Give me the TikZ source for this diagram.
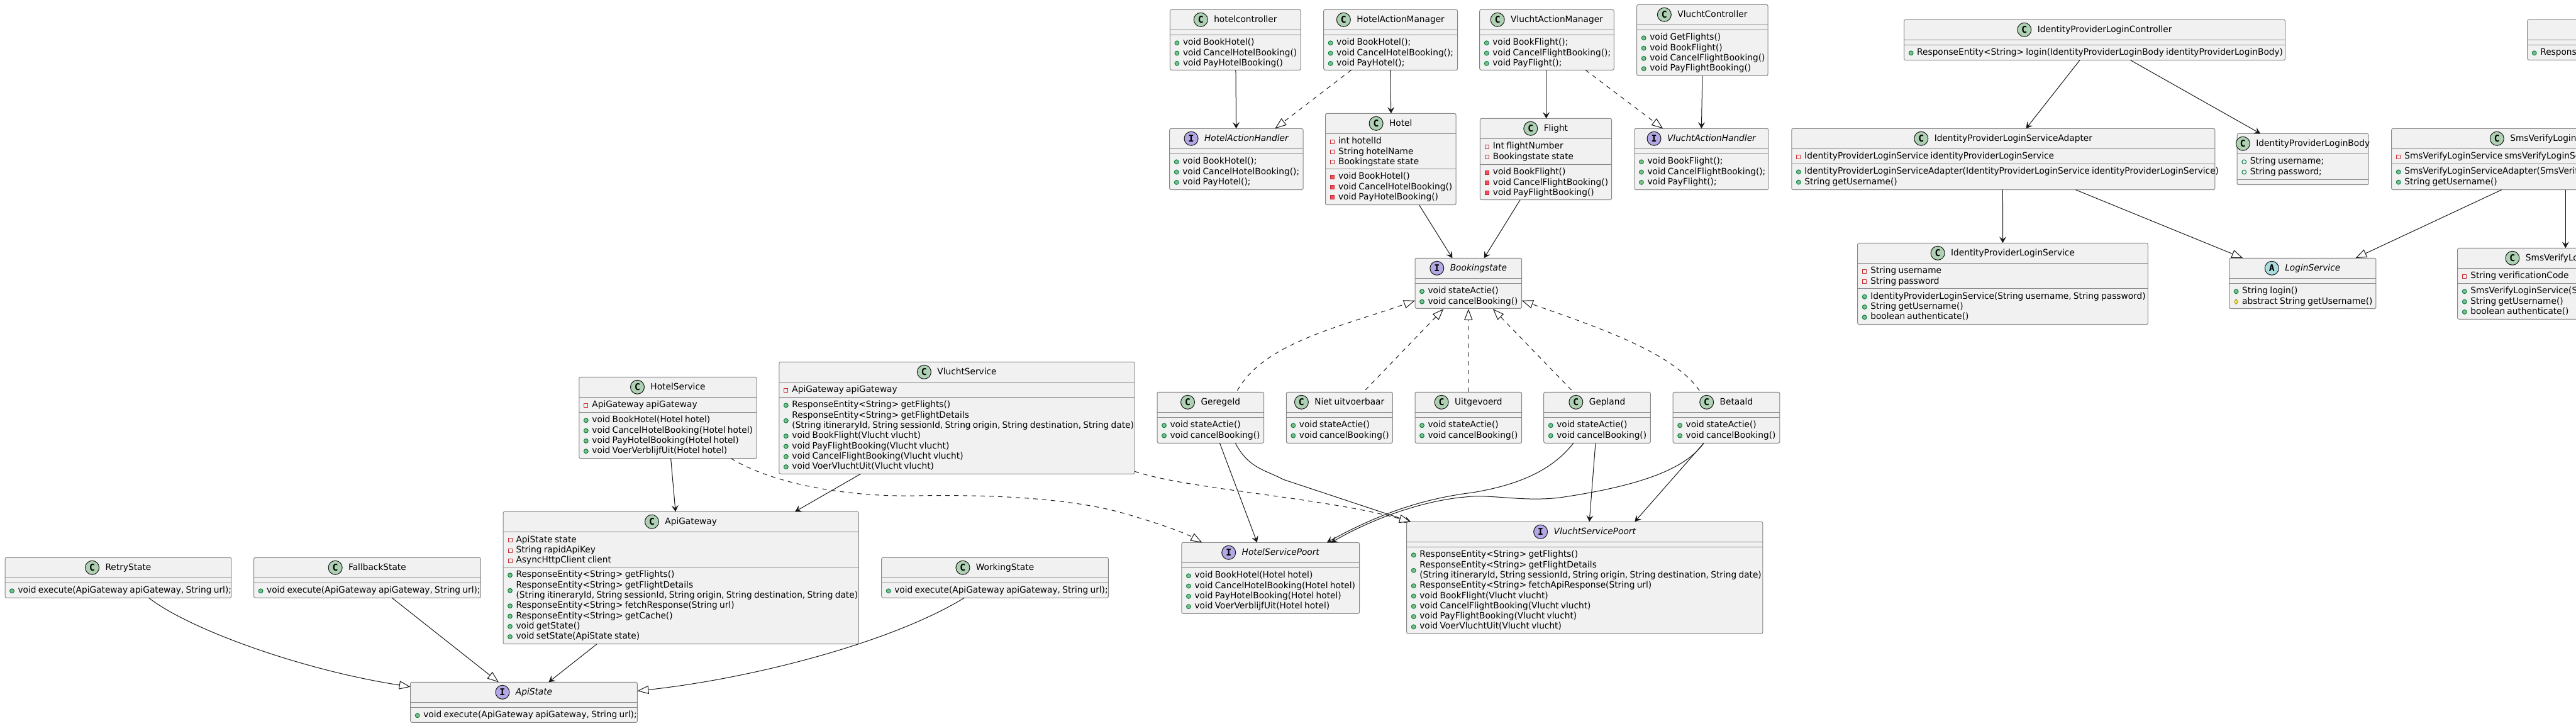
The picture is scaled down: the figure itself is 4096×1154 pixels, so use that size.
\documentclass[tikz,border=0pt]{standalone}
\usepackage{fontspec}
\setmainfont[FakeStretch=0.98,WordSpace=0.75]{DejaVu Sans}
\newfontfamily\badgefont{DejaVu Sans Mono}
\usetikzlibrary{arrows.meta,fit}
\definecolor{classfill}{HTML}{F1F1F1}
\definecolor{classline}{HTML}{868686}
\definecolor{edgeline}{HTML}{181818}
\definecolor{badgeC}{HTML}{ADD1B2}
\definecolor{badgeI}{HTML}{B4A7E5}
\definecolor{badgeA}{HTML}{A9DCDF}
\definecolor{pubfill}{HTML}{84BE84}
\definecolor{publine}{HTML}{038048}
\definecolor{prifill}{HTML}{F24D5C}
\definecolor{priline}{HTML}{C82930}
\definecolor{protfill}{HTML}{FFFF44}
\definecolor{protline}{HTML}{B38D22}
\tikzset{
  classnode/.style={draw=classline,fill=classfill,line width=0.5pt,rounded corners=1.25pt,inner sep=0pt,outer sep=0pt},
  classsep/.style={draw=classline,line width=0.5pt},
  classtext/.style={inner sep=0pt,outer sep=0pt,font=\fontsize{7}{8.15}\selectfont,text=black},
  badge/.style={circle,draw=edgeline,line width=0.5pt,minimum size=11pt,inner sep=0pt,font=\badgefont\bfseries\fontsize{7.4}{7.4}\selectfont},
  assoc/.style={draw=edgeline,line width=0.5pt,-{Stealth[length=5pt,width=5.5pt,inset=2pt]}},
  extline/.style={draw=edgeline,line width=0.5pt,-{Triangle[open,fill=white,length=9pt,width=6.7pt]}},
  impline/.style={extline,dash pattern=on 3.5pt off 3.5pt},
  pubmethod/.pic={\draw[draw=publine,fill=pubfill,line width=0.5pt] (0,0) circle (1.7pt);},
  pubfield/.pic={\draw[draw=publine,line width=0.5pt] (0,0) circle (1.7pt);},
  primethod/.pic={\draw[draw=priline,fill=prifill,line width=0.5pt] (-1.5pt,-1.5pt) rectangle (1.5pt,1.5pt);},
  prifield/.pic={\draw[draw=priline,line width=0.5pt] (-1.5pt,-1.5pt) rectangle (1.5pt,1.5pt);},
  protmethod/.pic={\draw[draw=protline,fill=protfill,line width=0.5pt] (-1.4pt,0) -- (0,2pt) -- (1.4pt,0) -- (0,-2pt) -- cycle;}
}
\newcommand{\classbox}[7]{
  \node[classnode,fit={(#2,#3) (#4,#5)}] (#1) {};
  \draw[classsep] (#2,#6) -- (#4,#6);
  \draw[classsep] (#2,#7) -- (#4,#7);
  \coordinate (#1-t) at ({(#2+#4)/2},{#3+20.6});
  \coordinate (#1-f) at (#2,#6);
  \coordinate (#1-m) at (#2,#7);
}
\newcommand{\classhead}[3]{
  \node[classtext,anchor=base] (#1-title) at (#1-t) {\hspace{16pt}#3};
  \node[badge,fill=badge#2] (#1-badge) at ([shift={(11,-4.6)}]#1-title.base west) {#2};
}
\newcommand{\classicon}[3]{
  \pic at ([shift={(11,{13+16.3*#2})}]#1) {#3};
}
\newcommand{\classrow}[4]{
  \classicon{#1}{#2}{#3}
  \node[classtext,anchor=base west] (#1-#2) at ([shift={(20.6,{16.5+16.3*#2})}]#1) {#4};
}
\newcommand{\classline}[3]{
  \node[classtext,anchor=base west] (#1-#2) at ([shift={(20.6,{16.5+16.3*#2})}]#1) {#3};
}
\begin{document}
\begin{tikzpicture}[x=0.5pt,y=-0.5pt]
\useasboundingbox (0,0) rectangle (4096,1154);
\clip (0,0) rectangle (4096,1154);
\classbox{hotelcontroller}{1860.4}{15.3}{2068.3}{111.3}{47.3}{55.3}
\classhead{hotelcontroller}{C}{hotelcontroller}
\classrow{hotelcontroller-m}{0}{pubmethod}{void BookHotel()}
\classrow{hotelcontroller-m}{1}{pubmethod}{void CancelHotelBooking()}
\classrow{hotelcontroller-m}{2}{pubmethod}{void PayHotelBooking()}
\classbox{hotelmanager}{2104.6}{15.3}{2317.6}{111.3}{47.3}{55.3}
\classhead{hotelmanager}{C}{HotelActionManager}
\classrow{hotelmanager-m}{0}{pubmethod}{void BookHotel();}
\classrow{hotelmanager-m}{1}{pubmethod}{void CancelHotelBooking();}
\classrow{hotelmanager-m}{2}{pubmethod}{void PayHotel();}
\classbox{vluchtmanager}{2352.7}{15.3}{2566.3}{111.3}{47.3}{55.3}
\classhead{vluchtmanager}{C}{VluchtActionManager}
\classrow{vluchtmanager-m}{0}{pubmethod}{void BookFlight();}
\classrow{vluchtmanager-m}{1}{pubmethod}{void CancelFlightBooking();}
\classrow{vluchtmanager-m}{2}{pubmethod}{void PayFlight();}
\classbox{vluchtcontroller}{2602.7}{7.3}{2811}{120.3}{39.3}{47.3}
\classhead{vluchtcontroller}{C}{VluchtController}
\classrow{vluchtcontroller-m}{0}{pubmethod}{void GetFlights()}
\classrow{vluchtcontroller-m}{1}{pubmethod}{void BookFlight()}
\classrow{vluchtcontroller-m}{2}{pubmethod}{void CancelFlightBooking()}
\classrow{vluchtcontroller-m}{3}{pubmethod}{void PayFlightBooking()}
\classbox{hotelhandler}{1859.7}{204.3}{2072}{301.7}{236.3}{244.3}
\classhead{hotelhandler}{I}{\itshape HotelActionHandler}
\classrow{hotelhandler-m}{0}{pubmethod}{void BookHotel();}
\classrow{hotelhandler-m}{1}{pubmethod}{void CancelHotelBooking();}
\classrow{hotelhandler-m}{2}{pubmethod}{void PayHotel();}
\classbox{hotel}{2107.5}{180.3}{2315}{325.7}{212.3}{268.3}
\classhead{hotel}{C}{Hotel}
\classrow{hotel-f}{0}{prifield}{int hotelId}
\classrow{hotel-f}{1}{prifield}{String hotelName}
\classrow{hotel-f}{2}{prifield}{Bookingstate state}
\classrow{hotel-m}{0}{primethod}{void BookHotel()}
\classrow{hotel-m}{1}{primethod}{void CancelHotelBooking()}
\classrow{hotel-m}{2}{primethod}{void PayHotelBooking()}
\classbox{flight}{2353.3}{188.3}{2562.5}{317.7}{220.3}{261.3}
\classhead{flight}{C}{Flight}
\classrow{flight-f}{0}{prifield}{Int flightNumber}
\classrow{flight-f}{1}{prifield}{Bookingstate state}
\classrow{flight-m}{0}{primethod}{void BookFlight()}
\classrow{flight-m}{1}{primethod}{void CancelFlightBooking()}
\classrow{flight-m}{2}{primethod}{void PayFlightBooking()}
\classbox{vluchthandler}{2598.9}{204.3}{2811.9}{301.7}{236.3}{244.3}
\classhead{vluchthandler}{I}{\itshape VluchtActionHandler}
\classrow{vluchthandler-m}{0}{pubmethod}{void BookFlight();}
\classrow{vluchthandler-m}{1}{pubmethod}{void CancelFlightBooking();}
\classrow{vluchthandler-m}{2}{pubmethod}{void PayFlight();}
\classbox{idpcontroller}{3027.6}{31.3}{3633.5}{95.7}{63.3}{71.3}
\classhead{idpcontroller}{C}{IdentityProviderLoginController}
\classrow{idpcontroller-m}{0}{pubmethod}{ResponseEntity<String> login(IdentityProviderLoginBody identityProviderLoginBody)}
\classbox{idpadapter}{2848.8}{204.3}{3521.9}{301.7}{236.3}{260.3}
\classhead{idpadapter}{C}{IdentityProviderLoginServiceAdapter}
\classrow{idpadapter-f}{0}{prifield}{IdentityProviderLoginService identityProviderLoginService}
\classrow{idpadapter-m}{0}{pubmethod}{IdentityProviderLoginServiceAdapter(IdentityProviderLoginService identityProviderLoginService)}
\classrow{idpadapter-m}{1}{pubmethod}{String getUsername()}
\classbox{idpbody}{3557.2}{212.3}{3766.2}{293.7}{244.3}{285.7}
\classhead{idpbody}{C}{IdentityProviderLoginBody}
\classrow{idpbody-f}{0}{pubfield}{String username;}
\classrow{idpbody-f}{1}{pubfield}{String password;}
\classbox{idpservice}{2953.7}{386.3}{3415.3}{515.7}{418.3}{458.7}
\classhead{idpservice}{C}{IdentityProviderLoginService}
\classrow{idpservice-f}{0}{prifield}{String username}
\classrow{idpservice-f}{1}{prifield}{String password}
\classrow{idpservice-m}{0}{pubmethod}{IdentityProviderLoginService(String username, String password)}
\classrow{idpservice-m}{1}{pubmethod}{String getUsername()}
\classrow{idpservice-m}{2}{pubmethod}{boolean authenticate()}
\classbox{loginservice}{3544.6}{410.3}{3777.9}{490.7}{442.3}{450.3}
\classhead{loginservice}{A}{\itshape LoginService}
\classrow{loginservice-m}{0}{pubmethod}{String login()}
\classrow{loginservice-m}{1}{protmethod}{abstract String getUsername()}
\classbox{smscontroller}{4018.7}{31.3}{4400}{95.3}{63.3}{71.3}
\classrow{smscontroller-m}{0}{pubmethod}{Respons}
\classbox{smsadapter}{3802.7}{204.3}{4253}{301.7}{236.3}{260.3}
\classhead{smsadapter}{C}{SmsVerifyLogin}
\classrow{smsadapter-f}{0}{prifield}{SmsVerifyLoginService smsVerifyLoginSe}
\classrow{smsadapter-m}{0}{pubmethod}{SmsVerifyLoginServiceAdapter(SmsVerify}
\classrow{smsadapter-m}{1}{pubmethod}{String getUsername()}
\classbox{smsservice}{3907.7}{394.3}{4176}{507.5}{426.3}{450.3}
\classhead{smsservice}{C}{SmsVerifyLo}
\classrow{smsservice-f}{0}{prifield}{String verificationCode}
\classrow{smsservice-m}{0}{pubmethod}{SmsVerifyLoginService(S}
\classrow{smsservice-m}{1}{pubmethod}{String getUsername()}
\classrow{smsservice-m}{2}{pubmethod}{boolean authenticate()}
\classbox{bookingstate}{2250}{410.3}{2419.7}{490.3}{442.3}{450.3}
\classhead{bookingstate}{I}{\itshape Bookingstate}
\classrow{bookingstate-m}{0}{pubmethod}{void stateActie()}
\classrow{bookingstate-m}{1}{pubmethod}{void cancelBooking()}
\classbox{geregeld}{1840}{623.3}{2009.6}{704.3}{655.3}{663.3}
\classhead{geregeld}{C}{Geregeld}
\classrow{geregeld-m}{0}{pubmethod}{void stateActie()}
\classrow{geregeld-m}{1}{pubmethod}{void cancelBooking()}
\classbox{nietuitvoerbaar}{2045.3}{623.3}{2214.3}{704.3}{655.3}{663.3}
\classhead{nietuitvoerbaar}{C}{Niet uitvoerbaar}
\classrow{nietuitvoerbaar-m}{0}{pubmethod}{void stateActie()}
\classrow{nietuitvoerbaar-m}{1}{pubmethod}{void cancelBooking()}
\classbox{uitgevoerd}{2250}{623.3}{2419.7}{704.3}{655.3}{663.3}
\classhead{uitgevoerd}{C}{Uitgevoerd}
\classrow{uitgevoerd-m}{0}{pubmethod}{void stateActie()}
\classrow{uitgevoerd-m}{1}{pubmethod}{void cancelBooking()}
\classbox{gepland}{2454.7}{623.3}{2624.4}{704.3}{655.3}{663.3}
\classhead{gepland}{C}{Gepland}
\classrow{gepland-m}{0}{pubmethod}{void stateActie()}
\classrow{gepland-m}{1}{pubmethod}{void cancelBooking()}
\classbox{betaald}{2660.1}{623.3}{2829.8}{704.3}{655.3}{663.3}
\classhead{betaald}{C}{Betaald}
\classrow{betaald-m}{0}{pubmethod}{void stateActie()}
\classrow{betaald-m}{1}{pubmethod}{void cancelBooking()}
\classbox{hotelservice}{920.8}{599.3}{1203.2}{728.7}{631.3}{655.3}
\classhead{hotelservice}{C}{HotelService}
\classrow{hotelservice-f}{0}{prifield}{ApiGateway apiGateway}
\classrow{hotelservice-m}{0}{pubmethod}{void BookHotel(Hotel hotel)}
\classrow{hotelservice-m}{1}{pubmethod}{void CancelHotelBooking(Hotel hotel)}
\classrow{hotelservice-m}{2}{pubmethod}{void PayHotelBooking(Hotel hotel)}
\classrow{hotelservice-m}{3}{pubmethod}{void VoerVerblijfUit(Hotel hotel)}
\classbox{vluchtservice}{1238.8}{575.3}{1804.2}{753.3}{607.3}{631.3}
\classhead{vluchtservice}{C}{VluchtService}
\classrow{vluchtservice-f}{0}{prifield}{ApiGateway apiGateway}
\classrow{vluchtservice-m}{0}{pubmethod}{ResponseEntity<String> getFlights()}
\classline{vluchtservice-m}{1}{ResponseEntity<String> getFlightDetails}
\classicon{vluchtservice-m}{1.5}{pubmethod}
\classline{vluchtservice-m}{2}{(String itineraryId, String sessionId, String origin, String destination, String date)}
\classrow{vluchtservice-m}{3}{pubmethod}{void BookFlight(Vlucht vlucht)}
\classrow{vluchtservice-m}{4}{pubmethod}{void PayFlightBooking(Vlucht vlucht)}
\classrow{vluchtservice-m}{5}{pubmethod}{void CancelFlightBooking(Vlucht vlucht)}
\classrow{vluchtservice-m}{6}{pubmethod}{void VoerVluchtUit(Vlucht vlucht)}
\classbox{apigateway}{800}{813.3}{1365.4}{1023.7}{845.7}{901.3}
\classhead{apigateway}{C}{ApiGateway}
\classrow{apigateway-f}{0}{prifield}{ApiState state}
\classrow{apigateway-f}{1}{prifield}{String rapidApiKey}
\classrow{apigateway-f}{2}{prifield}{AsyncHttpClient client}
\classrow{apigateway-m}{0}{pubmethod}{ResponseEntity<String> getFlights()}
\classline{apigateway-m}{1}{ResponseEntity<String> getFlightDetails}
\classicon{apigateway-m}{1.5}{pubmethod}
\classline{apigateway-m}{2}{(String itineraryId, String sessionId, String origin, String destination, String date)}
\classrow{apigateway-m}{3}{pubmethod}{ResponseEntity<String> fetchResponse(String url)}
\classrow{apigateway-m}{4}{pubmethod}{ResponseEntity<String> getCache()}
\classrow{apigateway-m}{5}{pubmethod}{void getState()}
\classrow{apigateway-m}{6}{pubmethod}{void setState(ApiState state)}
\classbox{retrystate}{8}{886.3}{367.9}{950.3}{918.3}{926.3}
\classhead{retrystate}{C}{RetryState}
\classrow{retrystate-m}{0}{pubmethod}{void execute(ApiGateway apiGateway, String url);}
\classbox{fallbackstate}{403.6}{886.3}{764.3}{950.3}{918.3}{926.3}
\classhead{fallbackstate}{C}{FallbackState}
\classrow{fallbackstate-m}{0}{pubmethod}{void execute(ApiGateway apiGateway, String url);}
\classbox{workingstate}{1401.7}{886.3}{1762.4}{950.3}{918.3}{926.3}
\classhead{workingstate}{C}{WorkingState}
\classrow{workingstate-m}{0}{pubmethod}{void execute(ApiGateway apiGateway, String url);}
\classbox{apistate}{652.7}{1084.3}{1013.4}{1148.3}{1116.3}{1124.3}
\classhead{apistate}{I}{\itshape ApiState}
\classrow{apistate-m}{0}{pubmethod}{void execute(ApiGateway apiGateway, String url);}
\classbox{hotelpoort}{1878.9}{862.3}{2161.6}{975.3}{894.3}{902.3}
\classhead{hotelpoort}{I}{\itshape HotelServicePoort}
\classrow{hotelpoort-m}{0}{pubmethod}{void BookHotel(Hotel hotel)}
\classrow{hotelpoort-m}{1}{pubmethod}{void CancelHotelBooking(Hotel hotel)}
\classrow{hotelpoort-m}{2}{pubmethod}{void PayHotelBooking(Hotel hotel)}
\classrow{hotelpoort-m}{3}{pubmethod}{void VoerVerblijfUit(Hotel hotel)}
\classbox{vluchtpoort}{2236.7}{829.3}{2802.8}{1007.3}{861.3}{869.3}
\classhead{vluchtpoort}{I}{\itshape VluchtServicePoort}
\classrow{vluchtpoort-m}{0}{pubmethod}{ResponseEntity<String> getFlights()}
\classline{vluchtpoort-m}{1}{ResponseEntity<String> getFlightDetails}
\classicon{vluchtpoort-m}{1.5}{pubmethod}
\classline{vluchtpoort-m}{2}{(String itineraryId, String sessionId, String origin, String destination, String date)}
\classrow{vluchtpoort-m}{3}{pubmethod}{ResponseEntity<String> fetchApiResponse(String url)}
\classrow{vluchtpoort-m}{4}{pubmethod}{void BookFlight(Vlucht vlucht)}
\classrow{vluchtpoort-m}{5}{pubmethod}{void CancelFlightBooking(Vlucht vlucht)}
\classrow{vluchtpoort-m}{6}{pubmethod}{void PayFlightBooking(Vlucht vlucht)}
\classrow{vluchtpoort-m}{7}{pubmethod}{void VoerVluchtUit(Vlucht vlucht)}
\draw[assoc] ([shift={(0.6,0)}]hotelcontroller.south) -- ([shift={(-0.3,0)}]hotelhandler.north);
\draw[impline] ([shift={(-62.5,0)}]hotelmanager.south) -- ([shift={(61.5,0)}]hotelhandler.north);
\draw[assoc] ([shift={(-0.6,0)}]hotelmanager.south) -- ([shift={(0.6,0)}]hotel.north);
\draw[assoc] ([shift={(-0.9,0)}]vluchtmanager.south) -- ([shift={(0.7,0)}]flight.north);
\draw[impline] ([shift={(61.5,0)}]vluchtmanager.south) -- ([shift={(-61.2,0)}]vluchthandler.north);
\draw[assoc] (vluchtcontroller.south) -- (vluchthandler.north);
\draw[assoc] ([shift={(45.2,0)}]hotel.south) -- ([shift={(-25.5,0)}]bookingstate.north);
\draw[assoc] ([shift={(-40.8,0)}]flight.south) -- ([shift={(24.9,0)}]bookingstate.north);
\draw[assoc] ([shift={(-23.6,0)}]idpcontroller.south) -- ([shift={(36.2,0)}]idpadapter.north);
\draw[assoc] ([shift={(57,0)}]idpcontroller.south) -- ([shift={(-67.6,0)}]idpbody.north);
\draw[assoc] ([shift={(-0.9,0)}]idpadapter.south) -- (idpservice.north);
\draw[extline] ([shift={(115,0)}]idpadapter.south) -- ([shift={(-94.9,0)}]loginservice.north);
\draw[extline] ([shift={(175,0)}]smsadapter.south west) -- ([shift={(84,0)}]loginservice.north);
\draw[assoc] ([shift={(276.6,0)}]smsadapter.south west) -- ([shift={(171.6,0)}]smsservice.north west);
\draw[impline] ([shift={(42.7,-2.6)}]geregeld.north) .. controls (2010,545) and (2130,520) .. ([shift={(0,-12.6)}]bookingstate.south west);
\draw[impline] ([shift={(41.2,-3.3)}]nietuitvoerbaar.north) -- ([shift={(-39.6,0.7)}]bookingstate.south);
\draw[impline] (uitgevoerd.north) -- ([shift={(0,0.7)}]bookingstate.south);
\draw[impline] ([shift={(-40.9,-3.3)}]gepland.north) -- ([shift={(38.9,0.7)}]bookingstate.south);
\draw[impline] ([shift={(-42.8,-2.6)}]betaald.north) .. controls (2660,560) and (2540,520) .. ([shift={(0,-12.6)}]bookingstate.south east);
\draw[assoc] ([shift={(14.6,0)}]geregeld.south) -- ([shift={(-21.4,0)}]hotelpoort.north);
\draw[assoc] ([shift={(39.5,0)}]geregeld.south) .. controls (1985,745) and (2015,748) .. (2040,762) -- ([shift={(6.3,0)}]vluchtpoort.north west);
\draw[assoc] ([shift={(-37.7,0)}]gepland.south) .. controls (2470,745) and (2420,770) .. (2341,783) .. controls (2260,793) and (2190,818) .. ([shift={(89.5,0)}]hotelpoort.north);
\draw[assoc] ([shift={(-2.6,0)}]gepland.south) -- ([shift={(7.4,0)}]vluchtpoort.north);
\draw[assoc] ([shift={(-35.8,0)}]betaald.south) .. controls (2680,745) and (2610,772) .. (2480,791) .. controls (2420,798) and (2370,785) .. (2330,790) .. controls (2270,795) and (2190,820) .. ([shift={(96.5,0)}]hotelpoort.north);
\draw[assoc] ([shift={(-35.8,0)}]betaald.south) -- ([shift={(79.6,0)}]vluchtpoort.north);
\draw[impline] ([shift={(0,-4)}]vluchtservice.south east) .. controls (1890,778) and (2100,790) .. ([shift={(6.3,0)}]vluchtpoort.north west);
\draw[impline] ([shift={(100.4,0)}]hotelservice.south) .. controls (1230,770) and (1350,790) .. (1454,788) .. controls (1560,786) and (1690,790) .. (1780,814) .. controls (1830,828) and (1880,845) .. ([shift={(-109,0)}]hotelpoort.north);
\draw[assoc] ([shift={(4.6,0)}]hotelservice.south) -- ([shift={(-8.6,0)}]apigateway.north);
\draw[assoc] ([shift={(-153,0)}]vluchtservice.south) -- ([shift={(181.4,0)}]apigateway.north);
\draw[extline] ([shift={(48.7,0)}]retrystate.south) .. controls (300,1000) and (480,1065) .. ([shift={(0,7.4)}]apistate.north west);
\draw[extline] ([shift={(39.3,0)}]fallbackstate.south) -- ([shift={(-40.2,0)}]apistate.north);
\draw[assoc] ([shift={(-133.6,0)}]apigateway.south) -- ([shift={(39.3,0)}]apistate.north);
\draw[extline] ([shift={(-48.7,0)}]workingstate.south) .. controls (1420,1020) and (1200,1078) .. ([shift={(0,14)}]apistate.north east);
\end{tikzpicture}
\end{document}
